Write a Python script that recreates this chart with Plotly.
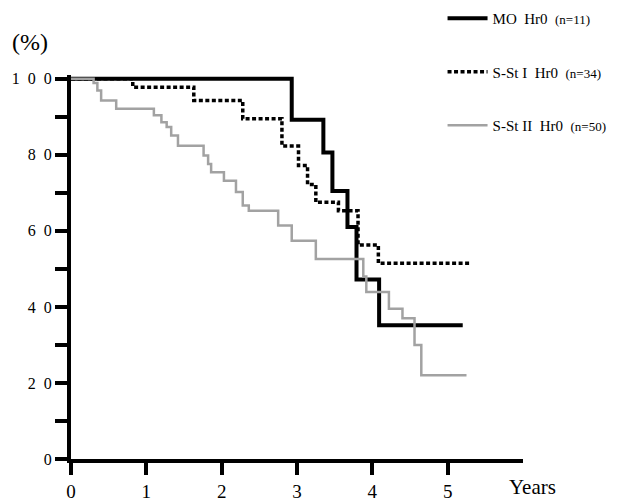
import plotly.graph_objects as go

# ---- data ----
mo_t = [0, 2.93, 3.35, 3.47, 3.67, 3.79, 4.09, 5.20]
mo_v = [100, 89.2, 80.6, 70.5, 61.0, 47.2, 35.2, 35.2]

ss1_t = [0, 0.82, 1.63, 2.28, 2.80, 3.02, 3.14, 3.25, 3.55, 3.81, 4.08, 5.30]
ss1_v = [100, 97.8, 94.3, 89.5, 82.3, 77.2, 72.2, 67.5, 65.3, 56.3, 51.5, 51.5]

ss2_t = [0, 0.30, 0.35, 0.40, 0.60, 1.10, 1.20, 1.27, 1.33, 1.42, 1.76, 1.82, 1.86,
         2.03, 2.19, 2.28, 2.36, 2.75, 2.93, 3.25, 3.88, 3.92, 4.22, 4.40, 4.56, 4.65, 5.25]
ss2_v = [100, 98.9, 96.9, 94.3, 92.1, 90.4, 88.6, 87.3, 85.1, 82.4, 79.8, 77.6, 75.4,
         73.2, 70.2, 66.7, 65.3, 61.4, 57.4, 52.6, 48.0, 43.9, 39.5, 37.0, 30.0, 22.0, 22.0]

series_names = [
    "MO\u00a0\u00a0Hr0\u00a0\u00a0<span style='font-size:13px'>(n=11)</span>",
    "S-St\u00a0I\u00a0\u00a0Hr0\u00a0\u00a0<span style='font-size:13px'>(n=34)</span>",
    "S-St\u00a0II\u00a0\u00a0Hr0\u00a0\u00a0<span style='font-size:13px'>(n=50)</span>",
]

x_ticks = [0, 1, 2, 3, 4, 5]
y_ticks = list(range(0, 101, 10))
y_ticktext = ["0", "", "2\u20020", "", "4\u20020", "", "6\u20020", "", "8\u20020", "",
              "1\u20020\u20020"]

SERIF = "Liberation Serif, Times New Roman, serif"

fig = go.Figure()
fig.add_trace(go.Scatter(x=mo_t, y=mo_v, mode="lines", line_shape="hv",
                         line=dict(color="black", width=4), name=series_names[0],
                         legendgroup="a"))
fig.add_trace(go.Scatter(x=ss1_t, y=ss1_v, mode="lines", line_shape="hv",
                         line=dict(color="black", width=3.5, dash="4px,2.5px"),
                         name=series_names[1], legendgroup="b"))
fig.add_trace(go.Scatter(x=ss2_t, y=ss2_v, mode="lines", line_shape="hv",
                         line=dict(color="#a2a2a2", width=2.5), name=series_names[2],
                         legendgroup="c"))

# the page adds an 8px body margin, so the figure is 610x494
fig.update_layout(
    width=610, height=494,
    margin=dict(l=63, r=95, t=67, b=43, autoexpand=False),
    paper_bgcolor="white", plot_bgcolor="white",
    font=dict(family=SERIF, color="black"),
    showlegend=True,
    legend=dict(x=0.822, y=1.19, xanchor="left", yanchor="top",
                font=dict(family=SERIF, size=15), tracegroupgap=31,
                bgcolor="rgba(0,0,0,0)", itemwidth=40),
    xaxis=dict(range=[0, 6], showgrid=False, zeroline=False, showline=True,
               linecolor="black", linewidth=4, ticks="outside", ticklen=12,
               tickwidth=3.5, tickcolor="black", tickvals=x_ticks,
               ticktext=[str(v) for v in x_ticks],
               tickfont=dict(family=SERIF, size=19)),
    yaxis=dict(range=[0, 101], showgrid=False, zeroline=False, showline=True,
               linecolor="black", linewidth=4, ticks="outside", ticklen=12,
               tickwidth=3.5, tickcolor="black", tickvals=y_ticks,
               ticktext=y_ticktext, tickfont=dict(family=SERIF, size=16)),
    annotations=[
        dict(text="Years", x=1.02, y=0, xref="paper", yref="paper", yshift=-28,
             xanchor="center", yanchor="middle",
             showarrow=False, font=dict(family=SERIF, size=21)),
        dict(text="(%)", x=-0.135, y=1.086, xref="paper", yref="paper",
             xanchor="left", yanchor="middle", showarrow=False,
             font=dict(family=SERIF, size=24)),
    ],
)

fig.write_html("out.html")
